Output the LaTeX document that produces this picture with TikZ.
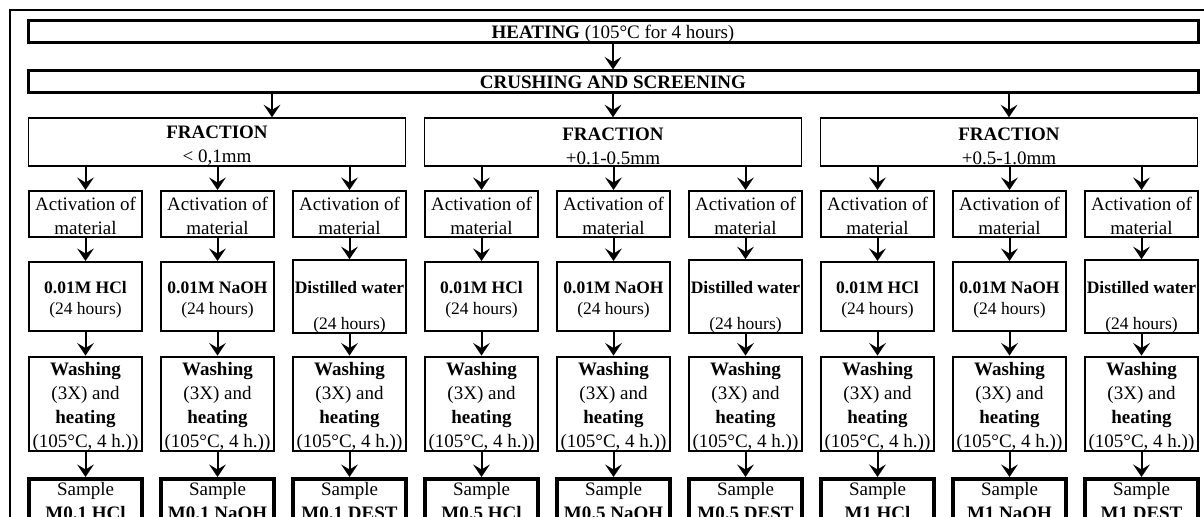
\documentclass[tikz,border=0pt]{standalone}
\usepackage{fontspec}
\setmainfont{Liberation Serif}
\usetikzlibrary{positioning,arrows.meta,calc}

\newcommand{\lift}[1]{\rule{0pt}{#1}}
\newcommand{\txtHCl}{\lift{10.7pt}\textbf{0.01M HCl}\\(24 hours)}
\newcommand{\txtNaOH}{\lift{10.7pt}\textbf{0.01M NaOH}\\(24 hours)}
\newcommand{\txtDEST}{\lift{19.7pt}\textbf{Distilled water}\\[9pt](24 hours)}

\begin{document}
\begin{tikzpicture}[
  x=0.6pt, y=-0.6pt, >={Stealth[length=7.5pt,width=10pt,inset=3pt]},
  font=\fontsize{11.4}{14.4}\selectfont,
  heavy/.style={draw, line width=1.8pt, minimum width=702pt, minimum height=13.2pt,
                inner sep=0pt, text height=10pt, text depth=2.5pt},
  frac/.style={draw, line width=0.8pt, align=center, minimum width=226.2pt,
               minimum height=28.8pt, inner sep=0pt},
  act/.style={draw, line width=1.2pt, align=center, minimum width=67.8pt,
              minimum height=27.6pt, inner xsep=1pt, inner ysep=0pt},
  sol/.style={act, minimum height=41.4pt, inner xsep=0.5pt,
              font=\fontsize{10.5}{12.6}\selectfont},
  wash/.style={act, minimum height=56.4pt},
  smp/.style={act, line width=2.4pt, anchor=north, text depth=34pt, inner ysep=0.5pt},
  fl/.style={->, line width=1.2pt},
]
\useasboundingbox (0,0) rectangle (1204,517);
\draw[line width=0.9pt] (10,10) rectangle (1240,560);

\node[heavy] (heat) at (613,32) {\textbf{HEATING} (105°C for 4 hours)};
\node[heavy] (crush) at (613,82) {\textbf{CRUSHING AND SCREENING}};
\node[frac] (f1) at (217,142) {\lift{12.4pt}\textbf{FRACTION}\\< 0,1mm};
\node[frac] (f2) at (613,142) {\lift{12.4pt}\textbf{FRACTION}\\+0.1-0.5mm};
\node[frac] (f3) at (1009,142) {\lift{12.4pt}\textbf{FRACTION}\\+0.5-1.0mm};
\coordinate (f1in) at ($(f1.north)+(55,0)$);

\draw[fl] (heat) -- (crush);
\draw[fl] (crush.south -| f1in) -- (f1in);
\draw[fl] (crush.south -| f2.north) -- (f2.north);
\draw[fl] (crush.south -| f3.north) -- (f3.north);

% one column per sample
\foreach \i/\f/\x/\s/\m in {1/1/85.5/HCl/M0.1 HCl, 2/1/217.5/NaOH/M0.1 NaOH,
    3/1/349.5/DEST/M0.1 DEST, 4/2/481.5/HCl/M0.5 HCl, 5/2/613.5/NaOH/M0.5 NaOH,
    6/2/745.5/DEST/M0.5 DEST, 7/3/877.5/HCl/M1 HCl, 8/3/1009.5/NaOH/M1 NaOH,
    9/3/1141.5/DEST/M1 DEST}{
  \node[act] (act\i) at (\x,214) {\lift{10.2pt}Activation of\\material};
  \node[sol] (sol\i) at (\x,296.5) {\csname txt\s\endcsname};
  \node[wash] (wash\i) at (\x,404) {\lift{11.3pt}\textbf{Washing}\\(3X) and\\\textbf{heating}\\(105°C, 4 h.))};
  \node[smp] (smp\i) at (\x,477) {\lift{9.6pt}Sample\\\textbf{\m}};
  \draw[fl] (f\f.south -| act\i.north) -- (act\i.north);
  \draw[fl] (act\i) -- (sol\i);
  \draw[fl] (sol\i) -- (wash\i);
  \draw[fl] (wash\i) -- (smp\i);
}
\end{tikzpicture}
\end{document}
